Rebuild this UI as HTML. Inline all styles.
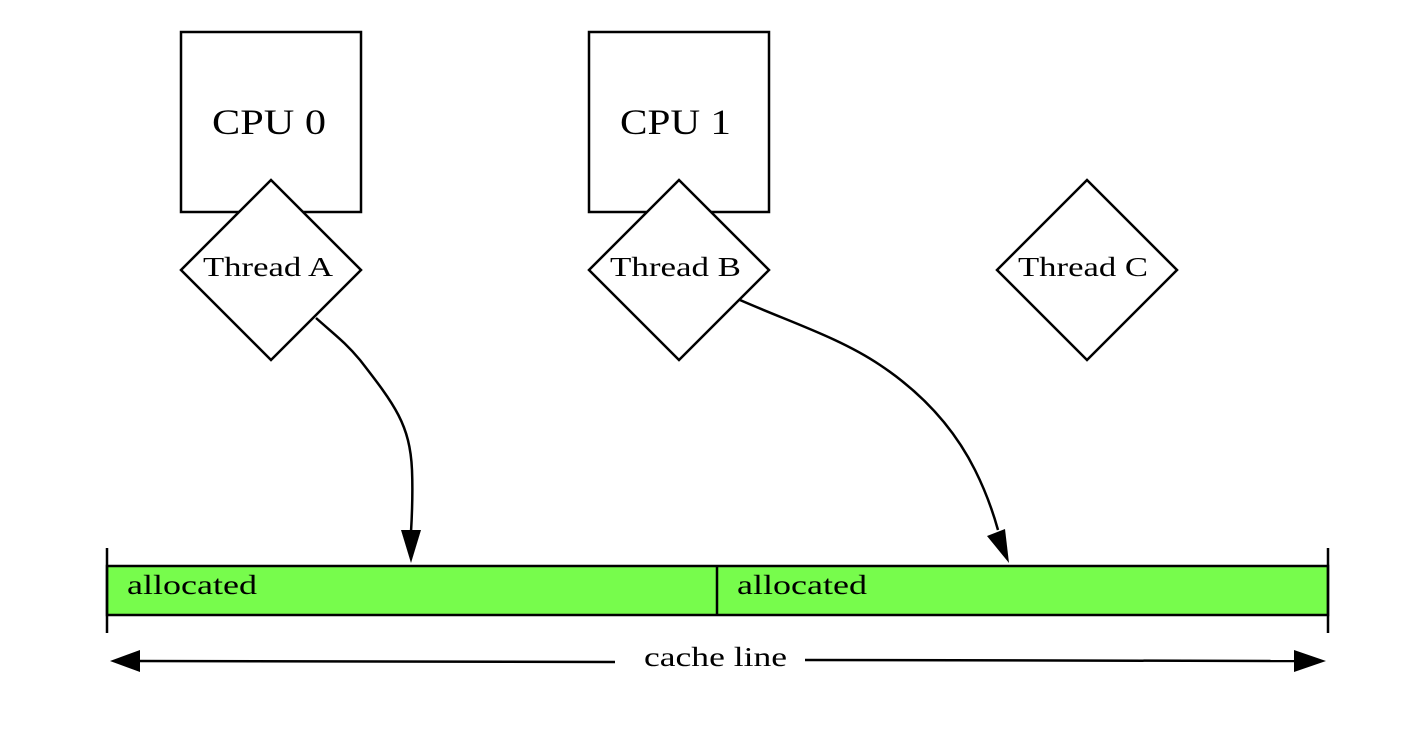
<!DOCTYPE html>
<html><head><style>body{margin:0;background:#fff}</style></head><body>
<svg width="1408" height="726" xmlns="http://www.w3.org/2000/svg" font-family="'Liberation Serif', serif">
<g stroke="#000" stroke-width="2.5" fill="#fff">
<rect x="181" y="32" width="180" height="180"/>
<rect x="589" y="32" width="180" height="180"/>
<polygon points="271,180 361,270 271,360 181,270"/>
<polygon points="679,180 769,270 679,360 589,270"/>
<polygon points="1087,180 1177,270 1087,360 997,270"/>
<rect x="107" y="566" width="1221" height="49" fill="#77fc4c"/>
<line x1="717" y1="566" x2="717" y2="615"/>
<line x1="107" y1="548" x2="107" y2="633"/>
<line x1="1328" y1="548" x2="1328" y2="633"/>
<path d="M316,318 C335,335 345,342 360,360 C395,405 410,425 412,470 C413,495 412,515 411,532" fill="none"/>
<path d="M740,300 C790,322 840,338 880,365 C925,395 955,430 975,470 C985,490 993,512 998,530" fill="none"/>
<line x1="135" y1="661" x2="615" y2="662" />
<line x1="805" y1="660" x2="1298" y2="661" />
</g>
<g fill="#000">
<polygon points="401,530 421,530 411,563"/>
<polygon points="987,536 1005,529 1009,563"/>
<polygon points="110,661 140,650 140,672"/>
<polygon points="1326,661 1294,650 1294,672"/>
</g>
<g font-size="36">
<text x="212" y="134" textLength="114" lengthAdjust="spacingAndGlyphs">CPU 0</text>
<text x="620" y="134" textLength="111" lengthAdjust="spacingAndGlyphs">CPU 1</text>
</g>
<g font-size="27">
<text x="203" y="276" textLength="130" lengthAdjust="spacingAndGlyphs">Thread A</text>
<text x="610" y="276" textLength="131" lengthAdjust="spacingAndGlyphs">Thread B</text>
<text x="1018" y="276" textLength="130" lengthAdjust="spacingAndGlyphs">Thread C</text>
<text x="644" y="666" textLength="143" lengthAdjust="spacingAndGlyphs">cache line</text>
<text x="127" y="594" textLength="130" lengthAdjust="spacingAndGlyphs">allocated</text>
<text x="737" y="594" textLength="130" lengthAdjust="spacingAndGlyphs">allocated</text>
</g>
</svg>
</body></html>
